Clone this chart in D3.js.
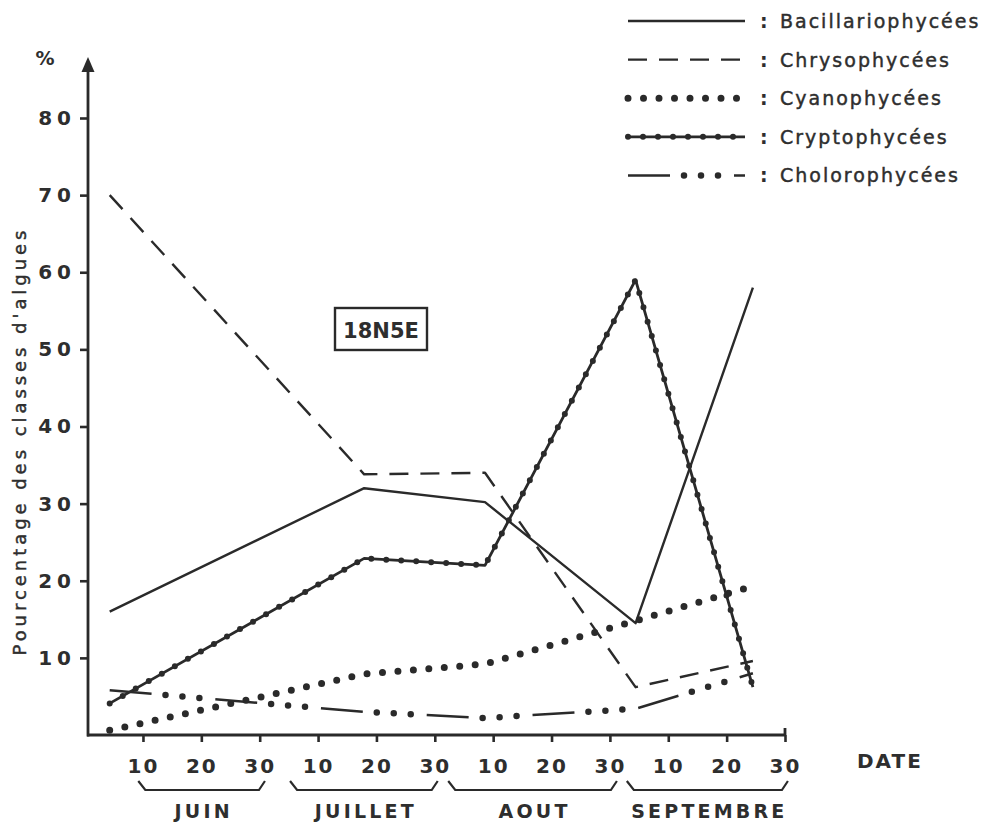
<!DOCTYPE html>
<html><head><meta charset="utf-8">
<script src="https://cdn.jsdelivr.net/npm/d3@7"></script>
<style>
body{margin:0;background:#fff}
svg{display:block}
text{font-family:"DejaVu Sans",sans-serif;fill:#2e2e2e}
</style>
</head><body>
<svg id="chart" width="992" height="825"></svg>
<script>
// Sampling dates, expressed in tens of days from 1 June (10 = one dekad)
const sampleDekads = [0.43, 4.79, 6.86, 9.44, 11.45];
const bacillariophycees = [16, 32, 30.2, 14.5, 58];
const chrysophycees = [70, 33.8, 34, 6.2, 9.6];
const cyanophycees = [0.6, 7.9, 9.2, 14.8, 19.3];
const cryptophycees = [4.1, 22.9, 22, 59, 6.2];
const chlorophycees = [5.8, 3.0, 2.2, 3.4, 8.0];
const seriesNames = ["Bacillariophycées", "Chrysophycées", "Cyanophycées", "Cryptophycées", "Cholorophycées"];
const yTicks = [10, 20, 30, 40, 50, 60, 70, 80];
const xTickDekads = [1, 2, 3, 4, 5, 6, 7, 8, 9, 10, 11, 12];
const xTickLabels = ["10", "20", "30", "10", "20", "30", "10", "20", "30", "10", "20", "30"];
const months = ["JUIN", "JUILLET", "AOUT", "SEPTEMBRE"];
const monthStart = [0.92, 3.52, 6.23, 9.29];
const monthEnd = [3.09, 6.05, 9.12, 12.05];
const stationLabel = "18N5E";
const yAxisTitle = "Pourcentage des classes d'algues";
const xAxisTitle = "DATE";

const INK = "#2a2a2a";
const svg = d3.select("#chart");
const x = d3.scaleLinear().domain([0, 12]).range([84.6, 785]);
const y = d3.scaleLinear().domain([0, 80]).range([735, 118]);
const axisX0 = 88;

// ---- series styles
const styles = {
  "Bacillariophycées": [{w: 2.4}],
  "Chrysophycées": [{w: 2.4, dash: "19,12"}],
  "Cyanophycées": [{w: 7, dash: "0,15.5", cap: "round"}],
  "Cryptophycées": [{w: 2.8}, {w: 6, dash: "0,15", cap: "round"}],
  "Cholorophycées": [{w: 2.5, dash: "42,64"}, {w: 6.5, dash: "0,17,0,17,0,72", offset: 50, cap: "round"}]
};
const seriesValues = [bacillariophycees, chrysophycees, cyanophycees, cryptophycees, chlorophycees];

function drawStyled(g, d, name) {
  styles[name].forEach(s => {
    g.append("path").attr("d", d).attr("fill", "none").attr("stroke", INK)
      .attr("stroke-width", s.w)
      .attr("stroke-linecap", s.cap || "butt")
      .attr("stroke-linejoin", "round")
      .attr("stroke-dasharray", s.dash || null)
      .attr("stroke-dashoffset", s.offset || 0);
  });
}

// ---- axes
const yAxis = d3.axisLeft(y).tickValues(yTicks).tickSize(8).tickPadding(4).tickFormat(d3.format("d"));
const gy = svg.append("g").attr("transform", `translate(${axisX0},0)`).call(yAxis);
gy.select(".domain").remove();
gy.selectAll(".tick line").attr("stroke", INK).attr("stroke-width", 2.6);
gy.selectAll(".tick text").attr("font-size", 20).attr("font-weight", "bold").attr("letter-spacing", 5)
  .style("font-family", '"DejaVu Sans",sans-serif').attr("fill", "#2e2e2e");

const xAxis = d3.axisBottom(x).tickValues(xTickDekads).tickSize(7).tickPadding(17).tickSizeOuter(0)
  .tickFormat((d, i) => xTickLabels[i]);
const gx = svg.append("g").attr("transform", "translate(0,735)").call(xAxis);
gx.select(".domain").remove();
gx.selectAll(".tick line").attr("stroke", INK).attr("stroke-width", 2.6);
gx.selectAll(".tick text").attr("font-size", 20).attr("font-weight", "bold").attr("letter-spacing", 2)
  .style("font-family", '"DejaVu Sans",sans-serif').attr("fill", "#2e2e2e");

// axis lines + arrow
svg.append("line").attr("x1", axisX0).attr("x2", axisX0).attr("y1", 70).attr("y2", y(0) + 1.5)
  .attr("stroke", INK).attr("stroke-width", 2.8);
svg.append("line").attr("x1", axisX0 - 1).attr("x2", x(12) + 1).attr("y1", y(0)).attr("y2", y(0))
  .attr("stroke", INK).attr("stroke-width", 2.8);
svg.append("line").attr("x1", x(12)).attr("x2", x(12)).attr("y1", y(0) - 7).attr("y2", y(0))
  .attr("stroke", INK).attr("stroke-width", 2.8);
svg.append("path").attr("d", `M${axisX0},57 L${axisX0 - 6.5},72 L${axisX0 + 6.5},72 Z`).attr("fill", INK);
svg.append("text").attr("x", 45).attr("y", 65).attr("text-anchor", "middle")
  .attr("font-size", 19).attr("font-weight", "bold").text("%");

// y title
svg.append("text").attr("transform", "translate(26,443) rotate(-90)").attr("text-anchor", "middle")
  .attr("font-size", 18).attr("stroke", "#2e2e2e").attr("stroke-width", 0.45)
  .attr("textLength", 425).attr("lengthAdjust", "spacing").text(yAxisTitle);

// x title
svg.append("text").attr("x", 857).attr("y", 768).attr("font-size", 20).attr("font-weight", "bold")
  .attr("letter-spacing", 2).text(xAxisTitle);

// month braces + labels
months.forEach((m, i) => {
  const a = x(monthStart[i]), b = x(monthEnd[i]);
  svg.append("path").attr("d", `M${a},781 L${a + 7},790 L${b - 6},790 L${b},781`)
    .attr("fill", "none").attr("stroke", INK).attr("stroke-width", 2.2);
  svg.append("text").attr("x", (a + b) / 2 + 2).attr("y", 818).attr("text-anchor", "middle")
    .attr("font-size", 19).attr("font-weight", "bold").attr("letter-spacing", 3.2).text(m);
});

// station box
const sb = svg.append("g");
sb.append("rect").attr("x", 335).attr("y", 308).attr("width", 92).attr("height", 42)
  .attr("fill", "none").attr("stroke", INK).attr("stroke-width", 2.4);
sb.append("text").attr("x", 381).attr("y", 338).attr("text-anchor", "middle")
  .attr("font-size", 21).attr("font-weight", "bold").text(stationLabel);

// series
const line = d3.line().x((d, i) => x(sampleDekads[i])).y(d => y(d));
const gs = svg.append("g");
seriesNames.forEach((name, k) => drawStyled(gs, line(seriesValues[k]), name));

// legend
const lg = svg.append("g");
seriesNames.forEach((name, i) => {
  const ly = 21 + i * 38.6;
  drawStyled(lg, `M628,${ly} L745,${ly}`, name);
  lg.append("text").attr("x", 760).attr("y", ly + 7).attr("font-size", 19).attr("font-weight", "bold").text(":");
  lg.append("text").attr("x", 780).attr("y", ly + 7).attr("font-size", 19).attr("letter-spacing", 2)
    .attr("stroke", "#2e2e2e").attr("stroke-width", 0.45).text(name);
});
</script>
</body></html>
